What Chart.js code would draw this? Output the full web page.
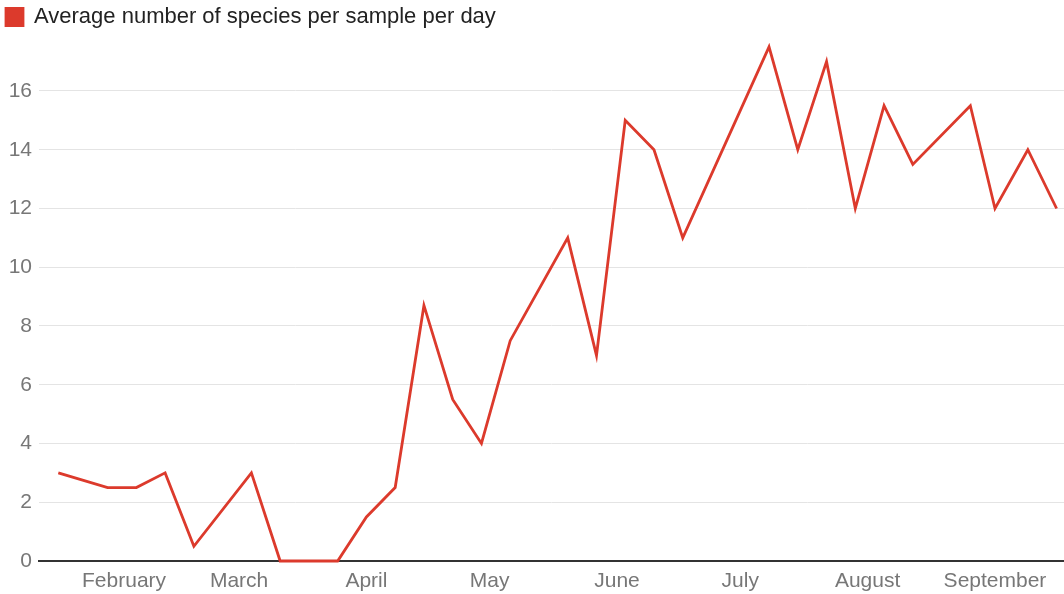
<!DOCTYPE html>
<html>
<head>
<meta charset="utf-8">
<script src="https://cdn.jsdelivr.net/npm/chart.js@4.4.1/dist/chart.umd.min.js"></script>
<style>
  html, body { margin: 0; padding: 0; background: #fff; }
  #wrap { width: 1064px; height: 594px; position: relative; }
</style>
</head>
<body>
<div id="wrap"><canvas id="chart"></canvas></div>
<script>
const seriesLabel = 'Average number of species per sample per day';

// sample dates as day of year
const sampleDays = [16, 28, 35, 42, 49, 63, 70, 84, 91, 98, 105, 112, 119, 126, 140,
    147, 154, 161, 168, 189, 196, 203, 210, 217, 224, 238, 244, 252, 259];
const speciesPerDay = [3, 2.5, 2.5, 3, 0.5, 3, 0, 0, 1.5, 2.5, 8.7, 5.5, 4, 7.5, 11,
    7, 15, 14, 11, 17.5, 14, 17, 12, 15.5, 13.5, 15.5, 12, 14, 12];

// month ticks (day of year of the 1st)
const monthStarts = [32, 60, 91, 121, 152, 182, 213, 244];
const monthNames = ['February', 'March', 'April', 'May', 'June', 'July', 'August', 'September'];
const yTicks = [0, 2, 4, 6, 8, 10, 12, 14, 16];

const lineColor = '#dc3a2c';
const fontFamily = '"Liberation Sans", Arial, sans-serif';

const ctx = document.getElementById('chart').getContext('2d');

new Chart(ctx, {
    type: 'line',
    data: {
        datasets: [{
            label: seriesLabel,
            data: sampleDays.map((d, i) => ({ x: d, y: speciesPerDay[i] })),
            borderColor: lineColor,
            backgroundColor: lineColor,
            borderWidth: 2.8,
            pointRadius: 0,
            tension: 0,
            clip: false
        }]
    },
    options: {
        responsive: true,
        maintainAspectRatio: false,
        animation: false,
        layout: { padding: 0 },
        plugins: {
            legend: {
                position: 'top',
                align: 'start',
                maxHeight: 34,
                labels: {
                    boxWidth: 17,
                    boxHeight: 17,
                    padding: 6,
                    color: '#222',
                    font: { family: fontFamily, size: 22 }
                }
            },
            tooltip: { enabled: false }
        },
        scales: {
            x: {
                type: 'linear',
                min: 11.3,
                max: 260.8,
                afterBuildTicks: (scale) => {
                    scale.ticks = monthStarts.map(v => ({ value: v }));
                },
                afterFit: (scale) => { scale.height = 33; },
                ticks: {
                    autoSkip: false,
                    maxRotation: 0,
                    padding: 8,
                    color: '#777',
                    font: { family: fontFamily, size: 21 },
                    callback: (value) => monthNames[monthStarts.indexOf(value)]
                },
                grid: { display: false, drawTicks: false },
                border: { display: true, color: '#333', width: 2 }
            },
            y: {
                min: 0,
                max: 17.94,
                afterBuildTicks: (scale) => {
                    scale.ticks = yTicks.map(v => ({ value: v }));
                },
                afterFit: (scale) => { scale.width = 39; },
                ticks: {
                    padding: 7,
                    color: '#777',
                    font: { family: fontFamily, size: 21 }
                },
                grid: { color: '#e4e4e4', lineWidth: 1, drawTicks: false },
                border: { display: false }
            }
        }
    }
});
</script>
</body>
</html>
